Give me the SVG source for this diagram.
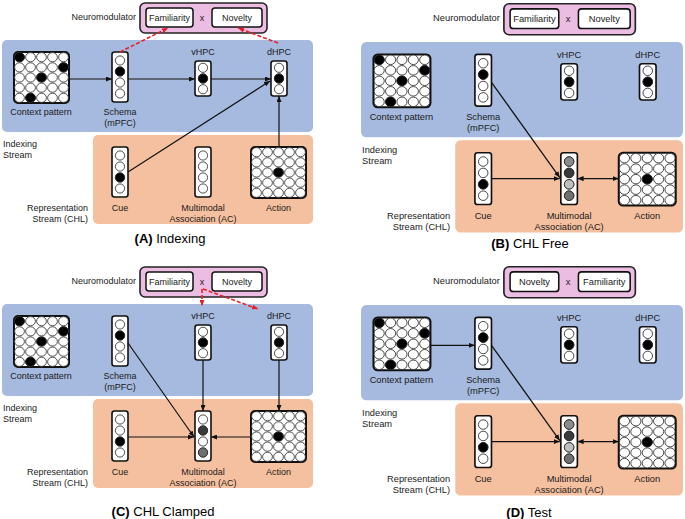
<svg xmlns="http://www.w3.org/2000/svg" xmlns:xlink="http://www.w3.org/1999/xlink" width="685" height="519" viewBox="0 0 685 519">
<style>
text{font-family:"Liberation Sans",Arial,sans-serif;font-size:9px;fill:#1a1a1a}
.m{text-anchor:middle}
.e{text-anchor:end}
.cap{font-size:13px;text-anchor:middle;fill:#000}
.b{font-weight:bold}
.blue{fill:#a6badf}
.orange{fill:#f5c09f}
.pink{fill:#ecbde3;stroke:#222;stroke-width:1.6}
.box{fill:#fff;stroke:#111;stroke-width:1.5}
.frame{fill:#fff;stroke:#111;stroke-width:1.6}
.gframe{fill:#fff;stroke:#111;stroke-width:2}
.c{fill:#fff;stroke:#222;stroke-width:0.8}
.k{fill:#000;stroke:#222;stroke-width:0.8}
.g1{fill:#8c8c8c;stroke:#222;stroke-width:0.8}
.g2{fill:#3a3a3a;stroke:#222;stroke-width:0.8}
.g3{fill:#c0c0c0;stroke:#222;stroke-width:0.8}
.g4{fill:#707070;stroke:#222;stroke-width:0.8}
.ln{fill:none;stroke:#111;stroke-width:1.2;marker-end:url(#ah)}
.ln2{fill:none;stroke:#111;stroke-width:1.2;marker-end:url(#ah);marker-start:url(#ah)}
.rd{fill:none;stroke:#e8202a;stroke-width:1.6;stroke-dasharray:4 2;marker-end:url(#rh)}
</style>
<defs>
<marker id="ah" markerUnits="userSpaceOnUse" markerWidth="6" markerHeight="5" refX="6" refY="2.5" orient="auto-start-reverse"><path d="M0,0 L6,2.5 L0,5 z" fill="#111"/></marker>
<marker id="rh" markerUnits="userSpaceOnUse" markerWidth="6" markerHeight="5" refX="6" refY="2.5" orient="auto"><path d="M0,0 L6,2.5 L0,5 z" fill="#e8202a"/></marker>
<g id="grid">
<rect class="gframe" x="0" y="0" width="55" height="51" rx="4"/>
<g>
<ellipse class="c" cx="5.5" cy="5.2" rx="4.9" ry="4.6"/><ellipse class="c" cx="16.5" cy="5.2" rx="4.9" ry="4.6"/><ellipse class="c" cx="27.5" cy="5.2" rx="4.9" ry="4.6"/><ellipse class="c" cx="38.5" cy="5.2" rx="4.9" ry="4.6"/><ellipse class="c" cx="49.5" cy="5.2" rx="4.9" ry="4.6"/>
<ellipse class="c" cx="5.5" cy="15.35" rx="4.9" ry="4.6"/><ellipse class="c" cx="16.5" cy="15.35" rx="4.9" ry="4.6"/><ellipse class="c" cx="27.5" cy="15.35" rx="4.9" ry="4.6"/><ellipse class="c" cx="38.5" cy="15.35" rx="4.9" ry="4.6"/><ellipse class="c" cx="49.5" cy="15.35" rx="4.9" ry="4.6"/>
<ellipse class="c" cx="5.5" cy="25.5" rx="4.9" ry="4.6"/><ellipse class="c" cx="16.5" cy="25.5" rx="4.9" ry="4.6"/><ellipse class="c" cx="27.5" cy="25.5" rx="4.9" ry="4.6"/><ellipse class="c" cx="38.5" cy="25.5" rx="4.9" ry="4.6"/><ellipse class="c" cx="49.5" cy="25.5" rx="4.9" ry="4.6"/>
<ellipse class="c" cx="5.5" cy="35.65" rx="4.9" ry="4.6"/><ellipse class="c" cx="16.5" cy="35.65" rx="4.9" ry="4.6"/><ellipse class="c" cx="27.5" cy="35.65" rx="4.9" ry="4.6"/><ellipse class="c" cx="38.5" cy="35.65" rx="4.9" ry="4.6"/><ellipse class="c" cx="49.5" cy="35.65" rx="4.9" ry="4.6"/>
<ellipse class="c" cx="5.5" cy="45.8" rx="4.9" ry="4.6"/><ellipse class="c" cx="16.5" cy="45.8" rx="4.9" ry="4.6"/><ellipse class="c" cx="27.5" cy="45.8" rx="4.9" ry="4.6"/><ellipse class="c" cx="38.5" cy="45.8" rx="4.9" ry="4.6"/><ellipse class="c" cx="49.5" cy="45.8" rx="4.9" ry="4.6"/>
</g>
</g>
<g id="col4">
<rect class="frame" x="0" y="0" width="16" height="50" rx="2.5"/>
<circle class="c" cx="8" cy="8.5" r="4.6"/><circle class="c" cx="8" cy="19.5" r="4.6"/><circle class="c" cx="8" cy="30.5" r="4.6"/><circle class="c" cx="8" cy="41.5" r="4.6"/>
</g>
<g id="col3">
<rect class="frame" x="0" y="0" width="16" height="35" rx="2.5"/>
<circle class="c" cx="8" cy="6.8" r="4.6"/><circle class="c" cx="8" cy="17.5" r="4.6"/><circle class="c" cx="8" cy="28.2" r="4.6"/>
</g>
</defs>

<!-- ================= Panel A ================= -->
<g id="panelA">
<rect class="blue" x="2" y="40" width="311" height="92" rx="5"/>
<rect class="orange" x="93" y="135" width="220" height="89" rx="5"/>
<text x="3" y="147">Indexing</text><text x="3" y="158">Stream</text>
<text class="e" x="88" y="211">Representation</text><text class="e" x="88" y="222">Stream (CHL)</text>
<g id="A-neuromodulator">
<text class="e" x="136" y="20">Neuromodulator</text>
<rect class="pink" x="140" y="3" width="127" height="30" rx="5"/>
<rect class="box" x="146" y="8" width="47" height="19" rx="3"/><text class="m" x="169.5" y="21">Familiarity</text>
<text class="m" x="202" y="21">x</text>
<rect class="box" x="212" y="8" width="50" height="19" rx="3"/><text class="m" x="237" y="21">Novelty</text>
</g>
<g id="A-context"><use href="#grid" x="14" y="52"/>
<ellipse class="k" cx="19.5" cy="57.2" rx="4.9" ry="4.6"/><ellipse class="k" cx="63.5" cy="67.35" rx="4.9" ry="4.6"/><ellipse class="k" cx="41.5" cy="77.5" rx="4.9" ry="4.6"/><ellipse class="k" cx="30.5" cy="97.8" rx="4.9" ry="4.6"/>
<text class="m" x="41" y="115">Context pattern</text></g>
<g id="A-schema"><use href="#col4" x="112" y="52"/><circle class="k" cx="120" cy="71.5" r="4.6"/>
<text class="m" x="120" y="115">Schema</text><text class="m" x="120" y="126">(mPFC)</text></g>
<g id="A-vhpc"><use href="#col3" x="195" y="61"/><circle class="k" cx="203" cy="78.5" r="4.6"/><text class="m" x="203" y="55">vHPC</text></g>
<g id="A-dhpc"><use href="#col3" x="271" y="61"/><circle class="k" cx="279" cy="78.5" r="4.6"/><text class="m" x="279" y="55">dHPC</text></g>
<g id="A-cue"><use href="#col4" x="112" y="147"/><circle class="k" cx="120" cy="177.5" r="4.6"/><text class="m" x="120" y="211">Cue</text></g>
<g id="A-multimodal"><use href="#col4" x="195" y="147"/><text class="m" x="203" y="211">Multimodal</text><text class="m" x="203" y="222">Association (AC)</text></g>
<g id="A-action"><use href="#grid" x="251" y="147"/><ellipse class="k" cx="278.5" cy="172.5" rx="4.9" ry="4.6"/><text class="m" x="278.5" y="211">Action</text></g>
<g id="A-connectors">
<line class="ln" x1="69" y1="79" x2="112" y2="79"/>
<line class="ln" x1="128" y1="79" x2="195" y2="79"/>
<line class="ln" x1="211" y1="79" x2="271" y2="79"/>
<line class="ln" x1="128" y1="172" x2="270" y2="81"/>
<line class="ln" x1="279" y1="147" x2="279" y2="96"/>
<line class="rd" x1="120" y1="52" x2="168" y2="28"/>
<line class="rd" x1="278" y1="43" x2="238" y2="28"/>
</g>
</g>

<!-- ================= Panel B ================= -->
<g id="panelB" transform="translate(359,0.6) scale(1.035)">
<rect class="blue" x="2" y="40" width="311" height="92" rx="5"/>
<rect class="orange" x="93" y="135" width="220" height="89" rx="5"/>
<text x="3" y="147">Indexing</text><text x="3" y="158">Stream</text>
<text class="e" x="88" y="211">Representation</text><text class="e" x="88" y="222">Stream (CHL)</text>
<g id="B-neuromodulator">
<text class="e" x="136" y="20">Neuromodulator</text>
<rect class="pink" x="140" y="3" width="127" height="30" rx="5"/>
<rect class="box" x="146" y="8" width="47" height="19" rx="3"/><text class="m" x="169.5" y="21">Familiarity</text>
<text class="m" x="202" y="21">x</text>
<rect class="box" x="212" y="8" width="50" height="19" rx="3"/><text class="m" x="237" y="21">Novelty</text>
</g>
<g id="B-context"><use href="#grid" x="14" y="52"/>
<ellipse class="k" cx="19.5" cy="57.2" rx="4.9" ry="4.6"/><ellipse class="k" cx="63.5" cy="67.35" rx="4.9" ry="4.6"/><ellipse class="k" cx="41.5" cy="77.5" rx="4.9" ry="4.6"/><ellipse class="k" cx="30.5" cy="97.8" rx="4.9" ry="4.6"/>
<text class="m" x="41" y="115">Context pattern</text></g>
<g id="B-schema"><use href="#col4" x="112" y="52"/><circle class="k" cx="120" cy="71.5" r="4.6"/>
<text class="m" x="120" y="115">Schema</text><text class="m" x="120" y="126">(mPFC)</text></g>
<g id="B-vhpc"><use href="#col3" x="195" y="61"/><circle class="k" cx="203" cy="78.5" r="4.6"/><text class="m" x="203" y="55">vHPC</text></g>
<g id="B-dhpc"><use href="#col3" x="271" y="61"/><circle class="k" cx="279" cy="78.5" r="4.6"/><text class="m" x="279" y="55">dHPC</text></g>
<g id="B-cue"><use href="#col4" x="112" y="147"/><circle class="k" cx="120" cy="177.5" r="4.6"/><text class="m" x="120" y="211">Cue</text></g>
<g id="B-multimodal"><use href="#col4" x="195" y="147"/>
<circle class="g1" cx="203" cy="155.5" r="4.6"/><circle class="g2" cx="203" cy="166.5" r="4.6"/><circle class="g3" cx="203" cy="177.5" r="4.6"/><circle class="g4" cx="203" cy="188.5" r="4.6"/>
<text class="m" x="203" y="211">Multimodal</text><text class="m" x="203" y="222">Association (AC)</text></g>
<g id="B-action"><use href="#grid" x="251" y="147"/><ellipse class="k" cx="278.5" cy="172.5" rx="4.9" ry="4.6"/><text class="m" x="278.5" y="211">Action</text></g>
<g id="B-connectors">
<line class="ln" x1="128" y1="79" x2="194" y2="171"/>
<line class="ln" x1="128" y1="172" x2="194" y2="172"/>
<line class="ln2" x1="211" y1="172" x2="251" y2="172"/>
</g>
</g>

<!-- ================= Panel C ================= -->
<g id="panelC" transform="translate(0,264)">
<rect class="blue" x="2" y="40" width="311" height="92" rx="5"/>
<rect class="orange" x="93" y="135" width="220" height="89" rx="5"/>
<text x="3" y="147">Indexing</text><text x="3" y="158">Stream</text>
<text class="e" x="88" y="211">Representation</text><text class="e" x="88" y="222">Stream (CHL)</text>
<g id="C-neuromodulator">
<text class="e" x="136" y="20">Neuromodulator</text>
<rect class="pink" x="140" y="3" width="127" height="30" rx="5"/>
<rect class="box" x="146" y="8" width="47" height="19" rx="3"/><text class="m" x="169.5" y="21">Familiarity</text>
<text class="m" x="202" y="21">x</text>
<rect class="box" x="212" y="8" width="50" height="19" rx="3"/><text class="m" x="237" y="21">Novelty</text>
</g>
<g id="C-context"><use href="#grid" x="14" y="52"/>
<ellipse class="k" cx="19.5" cy="57.2" rx="4.9" ry="4.6"/><ellipse class="k" cx="63.5" cy="67.35" rx="4.9" ry="4.6"/><ellipse class="k" cx="41.5" cy="77.5" rx="4.9" ry="4.6"/><ellipse class="k" cx="30.5" cy="97.8" rx="4.9" ry="4.6"/>
<text class="m" x="41" y="115">Context pattern</text></g>
<g id="C-schema"><use href="#col4" x="112" y="52"/><circle class="k" cx="120" cy="71.5" r="4.6"/>
<text class="m" x="120" y="115">Schema</text><text class="m" x="120" y="126">(mPFC)</text></g>
<g id="C-vhpc"><use href="#col3" x="195" y="61"/><circle class="k" cx="203" cy="78.5" r="4.6"/><text class="m" x="203" y="55">vHPC</text></g>
<g id="C-dhpc"><use href="#col3" x="271" y="61"/><circle class="k" cx="279" cy="78.5" r="4.6"/><text class="m" x="279" y="55">dHPC</text></g>
<g id="C-cue"><use href="#col4" x="112" y="147"/><circle class="k" cx="120" cy="177.5" r="4.6"/><text class="m" x="120" y="211">Cue</text></g>
<g id="C-multimodal"><use href="#col4" x="195" y="147"/>
<circle class="g2" cx="203" cy="166.5" r="4.6"/><circle class="g4" cx="203" cy="188.5" r="4.6"/>
<text class="m" x="203" y="211">Multimodal</text><text class="m" x="203" y="222">Association (AC)</text></g>
<g id="C-action"><use href="#grid" x="251" y="147"/><ellipse class="k" cx="278.5" cy="172.5" rx="4.9" ry="4.6"/><text class="m" x="278.5" y="211">Action</text></g>
<g id="C-connectors">
<line class="ln" x1="128" y1="79" x2="194" y2="173"/>
<line class="ln" x1="128" y1="173" x2="194" y2="173"/>
<line class="ln" x1="251" y1="173" x2="211" y2="173"/>
<line class="ln" x1="203" y1="96" x2="203" y2="147"/>
<line class="ln" x1="279" y1="96" x2="279" y2="147"/>
<line class="rd" x1="202" y1="25" x2="202" y2="42"/>
<line class="rd" x1="203" y1="25" x2="258" y2="45"/>
</g>
</g>

<!-- ================= Panel D ================= -->
<g id="panelD" transform="translate(359,263.6) scale(1.035)">
<rect class="blue" x="2" y="40" width="311" height="92" rx="5"/>
<rect class="orange" x="93" y="135" width="220" height="89" rx="5"/>
<text x="3" y="147">Indexing</text><text x="3" y="158">Stream</text>
<text class="e" x="88" y="211">Representation</text><text class="e" x="88" y="222">Stream (CHL)</text>
<g id="D-neuromodulator">
<text class="e" x="136" y="20">Neuromodulator</text>
<rect class="pink" x="140" y="3" width="127" height="30" rx="5"/>
<rect class="box" x="146" y="8" width="47" height="19" rx="3"/><text class="m" x="169.5" y="21">Novelty</text>
<text class="m" x="202" y="21">x</text>
<rect class="box" x="212" y="8" width="50" height="19" rx="3"/><text class="m" x="237" y="21">Familiarity</text>
</g>
<g id="D-context"><use href="#grid" x="14" y="52"/>
<ellipse class="k" cx="19.5" cy="57.2" rx="4.9" ry="4.6"/><ellipse class="k" cx="63.5" cy="67.35" rx="4.9" ry="4.6"/><ellipse class="k" cx="41.5" cy="77.5" rx="4.9" ry="4.6"/><ellipse class="k" cx="30.5" cy="97.8" rx="4.9" ry="4.6"/>
<text class="m" x="41" y="115">Context pattern</text></g>
<g id="D-schema"><use href="#col4" x="112" y="52"/><circle class="k" cx="120" cy="71.5" r="4.6"/>
<text class="m" x="120" y="115">Schema</text><text class="m" x="120" y="126">(mPFC)</text></g>
<g id="D-vhpc"><use href="#col3" x="195" y="61"/><circle class="k" cx="203" cy="78.5" r="4.6"/><text class="m" x="203" y="55">vHPC</text></g>
<g id="D-dhpc"><use href="#col3" x="271" y="61"/><circle class="k" cx="279" cy="78.5" r="4.6"/><text class="m" x="279" y="55">dHPC</text></g>
<g id="D-cue"><use href="#col4" x="112" y="147"/><circle class="k" cx="120" cy="177.5" r="4.6"/><text class="m" x="120" y="211">Cue</text></g>
<g id="D-multimodal"><use href="#col4" x="195" y="147"/>
<circle class="g1" cx="203" cy="155.5" r="4.6"/><circle class="g2" cx="203" cy="166.5" r="4.6"/><circle class="g3" cx="203" cy="177.5" r="4.6"/><circle class="g4" cx="203" cy="188.5" r="4.6"/>
<text class="m" x="203" y="211">Multimodal</text><text class="m" x="203" y="222">Association (AC)</text></g>
<g id="D-action"><use href="#grid" x="251" y="147"/><ellipse class="k" cx="278.5" cy="172.5" rx="4.9" ry="4.6"/><text class="m" x="278.5" y="211">Action</text></g>
<g id="D-connectors">
<line class="ln" x1="69" y1="79" x2="112" y2="79"/>
<line class="ln" x1="128" y1="79" x2="194" y2="171"/>
<line class="ln" x1="128" y1="172" x2="194" y2="172"/>
<line class="ln2" x1="211" y1="172" x2="251" y2="172"/>
</g>
</g>

<!-- captions -->
<text class="cap" x="170" y="243"><tspan class="b">(A)</tspan> Indexing</text>
<text class="cap" x="530" y="248"><tspan class="b">(B)</tspan> CHL Free</text>
<text class="cap" x="163" y="516"><tspan class="b">(C)</tspan> CHL Clamped</text>
<text class="cap" x="529" y="517"><tspan class="b">(D)</tspan> Test</text>
</svg>
